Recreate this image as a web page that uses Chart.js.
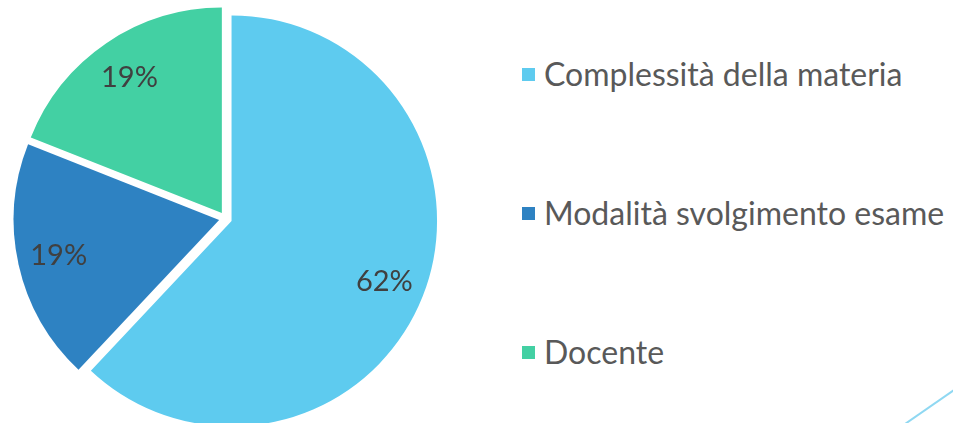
<!DOCTYPE html>
<html>
<head>
<meta charset="utf-8">
<script src="https://cdn.jsdelivr.net/npm/chart.js@4/dist/chart.umd.min.js"></script>
<style>
  html, body { margin: 0; padding: 0; background: #fff; }
  body { width: 953px; height: 423px; overflow: hidden; position: relative; font-family: Lato, sans-serif; }
  #pieBox { position: absolute; left: 0; top: 0; width: 470px; height: 440px; }
  #legend { position: absolute; left: 522px; top: 0; }
  .item { position: absolute; left: 0; white-space: nowrap; display: flex; align-items: center; }
  .swatch { width: 13px; height: 13px; margin-right: 9px; }
  .text { font-size: 32px; color: #595959; line-height: 40px; }
  #deco { position: absolute; left: 0; top: 0; }
</style>
</head>
<body>
<div id="pieBox"><canvas id="pie"></canvas></div>
<div id="legend"></div>
<svg id="deco" width="953" height="423"><line x1="905" y1="424" x2="954" y2="390" stroke="#8fd8f2" stroke-width="2"/></svg>
<script>
const categories = ['Complessità della materia', 'Modalità svolgimento esame', 'Docente'];
const percentages = [62, 19, 19];
const colors = ['#5ecbef', '#2e82c2', '#43d0a3'];
const legendRows = [54, 193, 332];

const EXPLODE = 6.5;

// pulls every slice a little away from the centre, then writes the % labels
const explodePlugin = {
    id: 'explode',
    beforeDatasetDraw(chart, args) {
        const ctx = chart.ctx;
        args.meta.data.forEach(arc => {
            const mid = (arc.startAngle + arc.endAngle) / 2;
            ctx.save();
            ctx.translate(Math.cos(mid) * EXPLODE, Math.sin(mid) * EXPLODE);
            arc.draw(ctx);
            ctx.restore();
        });
        return false;
    },
    afterDatasetsDraw(chart) {
        const ctx = chart.ctx;
        const meta = chart.getDatasetMeta(0);
        ctx.save();
        ctx.font = '29px Lato, sans-serif';
        ctx.fillStyle = '#404040';
        ctx.textAlign = 'center';
        ctx.textBaseline = 'middle';
        meta.data.forEach((arc, i) => {
            const mid = (arc.startAngle + arc.endAngle) / 2;
            const r = EXPLODE + arc.outerRadius * 0.8;
            ctx.fillText(percentages[i] + '%', arc.x + Math.cos(mid) * r, arc.y + Math.sin(mid) * r);
        });
        ctx.restore();
    }
};

function createPieChart(chartId) {
    const ctx = document.getElementById(chartId);
    ctx.chartInstance = new Chart(ctx, {
        type: 'pie',
        data: {
            labels: categories,
            datasets: [{
                data: percentages,
                backgroundColor: colors,
                borderWidth: 0,
                hoverBorderWidth: 0,
                offset: 0,
                hoverOffset: 0
            }]
        },
        options: {
            responsive: true,
            maintainAspectRatio: false,
            animation: false,
            events: [],
            layout: {
                padding: { left: 20, right: 39, top: 13, bottom: 16 }
            },
            plugins: {
                legend: { display: false },
                tooltip: { enabled: false }
            }
        },
        plugins: [explodePlugin]
    });
}

function buildLegend() {
    const box = document.getElementById('legend');
    categories.forEach((name, i) => {
        const row = document.createElement('div');
        row.className = 'item';
        row.style.top = legendRows[i] + 'px';
        row.innerHTML = '<span class="swatch" style="background:' + colors[i] + '"></span><span class="text">' + name + '</span>';
        box.appendChild(row);
    });
}

createPieChart('pie');
buildLegend();
</script>
</body>
</html>
